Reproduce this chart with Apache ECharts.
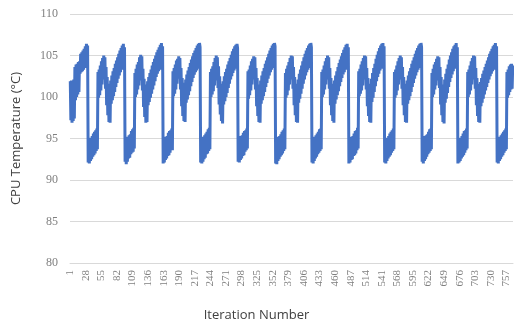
<!DOCTYPE html>
<html>
<head>
<meta charset="utf-8">
<script src="https://cdn.jsdelivr.net/npm/echarts@6/dist/echarts.min.js"></script>
<style>
  html, body { margin: 0; padding: 0; background: #fff; }
  #chart { width: 514px; height: 327px; }
</style>
</head>
<body>
<div id="chart"></div>
<script>
// 温度数据：按周期分段（每段从骤降点开始）
const startSeg = [101.9, 97.2, 102.0, 96.9, 101.8, 97.1, 102.1, 97.4, 103.6, 99.6, 103.9, 100.0, 104.0, 100.3, 104.2, 100.6, 104.3, 102.8, 105.2, 103.0, 105.4, 103.1, 105.6, 103.3, 105.8, 103.5, 106.1, 103.6, 106.4, 103.8, 106.2]
const cycle1 = [92.1, 94.8, 92.0, 95.0, 92.3, 95.1, 92.5, 95.3, 92.8, 95.6, 93.0, 95.8, 93.2, 96.0, 93.5, 96.2, 93.7,
  103.0, 99.9, 103.3, 100.2, 103.8, 100.8, 104.3, 101.5, 104.7, 102.1, 105.0, 102.3, 104.8,
  101.0, 103.6, 99.0, 102.4, 97.8, 101.6, 97.0, 101.3, 96.9,
  102.0, 99.2, 102.6, 99.6, 103.1, 100.1, 103.5, 100.6, 104.0, 101.2, 104.4, 101.7, 104.8, 102.2, 105.2, 102.6, 105.6, 103.0, 105.9, 103.3, 106.2, 103.5, 106.4, 103.6, 106.0]
const cycle2 = [92.2, 94.9, 91.9, 95.1, 92.2, 95.2, 92.6, 95.4, 92.7, 95.5, 93.1, 95.9, 93.3, 96.1, 93.4, 96.3, 93.8,
  102.9, 100.0, 103.4, 100.3, 103.9, 100.9, 104.2, 101.4, 104.8, 102.0, 105.1, 102.4, 104.9,
  100.8, 103.4, 98.8, 102.2, 97.6, 101.5, 96.9, 101.2, 97.0,
  101.9, 99.0, 102.4, 99.4, 102.9, 99.9, 103.3, 100.4, 103.8, 100.9, 104.2, 101.4, 104.6, 101.9, 105.0, 102.4, 105.4, 102.8, 105.7, 103.1, 106.0, 103.3, 106.3, 103.5, 106.5, 103.7, 106.1]
const cycle3 = [92.0, 94.7, 92.1, 94.9, 92.4, 95.2, 92.6, 95.3, 92.9, 95.7, 93.0, 95.9, 93.3, 96.0, 93.6, 96.2, 93.6,
  103.1, 100.1, 103.5, 100.4, 103.9, 100.9, 104.4, 101.6, 104.6, 102.2, 104.9, 102.2, 104.7,
  100.9, 103.5, 98.9, 102.3, 97.7, 101.7, 97.1, 101.4, 97.0,
  102.1, 99.3, 102.7, 99.7, 103.2, 100.2, 103.6, 100.7, 104.1, 101.3, 104.5, 101.8, 104.9, 102.3, 105.3, 102.7, 105.6, 103.0, 105.9, 103.2, 106.2, 103.4, 106.4, 103.6, 106.5, 106.0]
const cycle4 = [92.1, 94.8, 92.0, 95.0, 92.2, 95.2, 92.5, 95.4, 92.7, 95.6, 93.1, 95.8, 93.2, 96.1, 93.5, 96.3, 93.7,
  103.0, 100.0, 103.4, 100.3, 103.7, 100.7, 104.2, 101.4, 104.7, 102.0, 105.0, 102.3, 104.8,
  101.1, 103.7, 99.1, 102.5, 97.9, 101.6, 97.1, 101.3, 96.8,
  101.9, 99.1, 102.5, 99.5, 103.0, 100.0, 103.4, 100.5, 103.9, 101.1, 104.3, 101.6, 104.7, 102.1, 105.1, 102.5, 105.5, 102.9, 105.8, 103.2, 106.1, 103.4, 106.3, 103.5, 106.4, 105.9]
const cycle5 = [92.2, 94.9, 92.1, 95.1, 92.4, 95.3, 92.6, 95.4, 92.9, 95.7, 93.0, 95.9, 93.4, 96.0, 93.6, 96.2, 93.8,
  103.1, 99.8, 103.3, 100.2, 103.8, 100.8, 104.3, 101.5, 104.6, 102.1, 104.9, 102.4, 104.8,
  100.9, 103.5, 98.9, 102.3, 97.7, 101.5, 97.0, 101.2, 96.9,
  102.0, 99.2, 102.6, 99.6, 103.1, 100.1, 103.5, 100.6, 104.0, 101.2, 104.4, 101.7, 104.8, 102.2, 105.2, 102.6, 105.6, 103.0, 105.9, 103.3, 106.2, 103.5, 106.4, 103.6, 106.5, 106.1]
const cycle6 = [92.0, 94.8, 91.9, 95.0, 92.3, 95.2, 92.5, 95.3, 92.8, 95.5, 93.0, 95.8, 93.2, 96.0, 93.5, 96.2, 93.7,
  102.9, 99.9, 103.4, 100.2, 103.8, 100.8, 104.2, 101.5, 104.7, 102.1, 105.0, 102.3, 104.9,
  101.0, 103.6, 99.0, 102.4, 97.8, 101.6, 97.0, 101.3, 96.9,
  102.1, 99.3, 102.8, 99.8, 103.3, 100.4, 103.8, 101.0, 104.3, 101.6, 104.8, 102.1, 105.2, 102.6, 105.6, 103.0, 105.9, 103.3, 106.2, 103.5, 106.4, 103.7, 106.5, 106.0]
const cycle7 = [92.1, 94.9, 92.0, 95.1, 92.3, 95.2, 92.6, 95.4, 92.8, 95.6, 93.1, 95.8, 93.3, 96.1, 93.5, 96.2, 93.7,
  103.0, 100.0, 103.3, 100.3, 103.8, 100.9, 104.3, 101.5, 104.7, 102.1, 105.0, 102.4, 104.8,
  101.0, 103.5, 99.0, 102.3, 97.8, 101.6, 97.1, 101.3, 96.9,
  102.0, 99.2, 102.6, 99.7, 103.1, 100.2, 103.6, 100.7, 104.1, 101.3, 104.5, 101.8, 104.9, 102.3, 105.3, 102.7, 105.7, 103.0, 106.0, 103.3, 106.3, 103.5, 106.4, 103.6, 106.0]
const cycle8 = [92.0, 94.8, 92.1, 95.0, 92.4, 95.2, 92.5, 95.3, 92.9, 95.6, 93.0, 95.9, 93.2, 96.0, 93.6, 96.3, 93.8,
  103.1, 100.1, 103.4, 100.4, 103.9, 100.8, 104.3, 101.4, 104.7, 102.1, 105.0, 102.3, 104.9,
  100.9, 103.5, 98.9, 102.3, 97.7, 101.6, 97.0, 101.3, 96.9,
  102.2, 99.4, 102.9, 99.9, 103.5, 100.6, 104.0, 101.3, 104.6, 101.9, 105.1, 102.4, 105.5, 102.8, 105.9, 103.2, 106.2, 103.4, 106.4, 103.6, 106.5, 103.7, 106.1]
const cycle9 = [92.1, 94.7, 92.0, 94.9, 92.3, 95.1, 92.6, 95.3, 92.8, 95.6, 93.0, 95.8, 93.3, 96.0, 93.5, 96.2, 93.7,
  103.0, 99.9, 103.3, 100.2, 103.8, 100.8, 104.3, 101.5, 104.7, 102.1, 105.0, 102.3, 104.8,
  101.0, 103.6, 99.0, 102.4, 97.8, 101.6, 97.0, 101.3, 96.9,
  102.0, 99.2, 102.6, 99.6, 103.1, 100.1, 103.5, 100.6, 104.0, 101.2, 104.4, 101.7, 104.8, 102.2, 105.2, 102.6, 105.6, 103.0, 105.9, 103.3, 106.2, 103.5, 106.4, 103.6, 106.5, 106.0]
const cycle10 = [92.2, 94.9, 92.0, 95.0, 92.3, 95.3, 92.5, 95.4, 92.8, 95.5, 93.1, 95.8, 93.3, 96.1, 93.5, 96.2, 93.7,
  102.9, 100.0, 103.4, 100.3, 103.9, 100.9, 104.2, 101.4, 104.6, 102.0, 104.9, 102.3, 104.8,
  101.1, 103.6, 99.1, 102.4, 97.8, 101.5, 97.0, 101.2, 96.8,
  102.1, 99.3, 102.8, 99.8, 103.4, 100.5, 103.9, 101.2, 104.5, 101.8, 105.0, 102.3, 105.4, 102.7, 105.8, 103.1, 106.1, 103.4, 106.3, 103.6, 106.5, 103.7, 106.0]
const cycle11 = [92.0, 94.8, 92.1, 95.0, 92.3, 95.1, 92.6, 95.3, 92.8, 95.6, 93.0, 95.9, 93.3, 96.0, 93.6, 96.2, 93.8,
  103.0, 100.0, 103.3, 100.3, 103.8, 100.8, 104.3, 101.5, 104.7, 102.1, 105.0, 102.4, 104.9,
  101.0, 103.5, 99.0, 102.3, 97.7, 101.6, 97.0, 101.2, 96.9,
  101.8, 98.9, 102.3, 99.3, 102.8, 99.8, 103.2, 100.3, 103.6, 100.8, 104.0, 101.2, 104.4, 101.7, 104.8, 102.1, 105.2, 102.5, 105.5, 102.8, 105.8, 103.1, 106.1, 103.3, 106.3, 103.5, 106.5, 103.7, 106.1]
const cycle12 = [92.1, 94.8, 92.0, 95.0, 92.3, 95.2, 92.5, 95.4, 92.8, 95.6, 93.0, 95.8, 93.3, 96.0, 93.5, 96.2, 93.7,
  103.0, 99.9, 103.3, 100.2, 103.7, 100.6, 103.9, 100.9, 104.0, 101.0, 103.8]

const temps = [].concat(startSeg, cycle1, cycle2, cycle3, cycle4, cycle5, cycle6,
  cycle7, cycle8, cycle9, cycle10, cycle11, cycle12)
// x轴类目：迭代序号 1..N
const iterations = temps.map((v, i) => String(i + 1))
// y轴刻度
const yMin = 80
const yMax = 110
const yStep = 5

const option = {
  animation: false,
  grid: { left: 70, right: 1, top: 14, bottom: 64 },
  xAxis: {
    type: 'category',
    data: iterations,
    boundaryGap: true,
    name: 'Iteration Number',
    nameLocation: 'middle',
    nameGap: 46,
    nameTextStyle: {
      color: '#404040',
      fontSize: 13,
      fontFamily: 'Open Sans',
      padding: [0, 70, 0, 0],
    },
    axisLine: { lineStyle: { color: '#d9d9d9' } },
    axisTick: { show: false },
    axisLabel: {
      interval: 26,
      rotate: 90,
      margin: 7,
      color: '#808080',
      fontSize: 11,
      fontFamily: 'Liberation Serif',
    },
  },
  yAxis: {
    type: 'value',
    min: yMin,
    max: yMax,
    interval: yStep,
    name: 'CPU Temperature (°C)',
    nameLocation: 'middle',
    nameGap: 47,
    nameTextStyle: {
      color: '#404040',
      fontSize: 13,
      fontFamily: 'Open Sans',
    },
    axisLine: { show: false },
    axisTick: { show: false },
    axisLabel: {
      margin: 12,
      color: '#808080',
      fontSize: 12,
      fontFamily: 'Liberation Serif',
    },
    splitLine: { lineStyle: { color: '#d9d9d9' } },
  },
  series: [
    {
      type: 'line',
      data: temps,
      showSymbol: false,
      symbol: 'none',
      lineStyle: { color: '#4472C4', width: 3 },
    },
  ],
}
echarts.init(document.getElementById('chart')).setOption(option)
</script>
</body>
</html>
